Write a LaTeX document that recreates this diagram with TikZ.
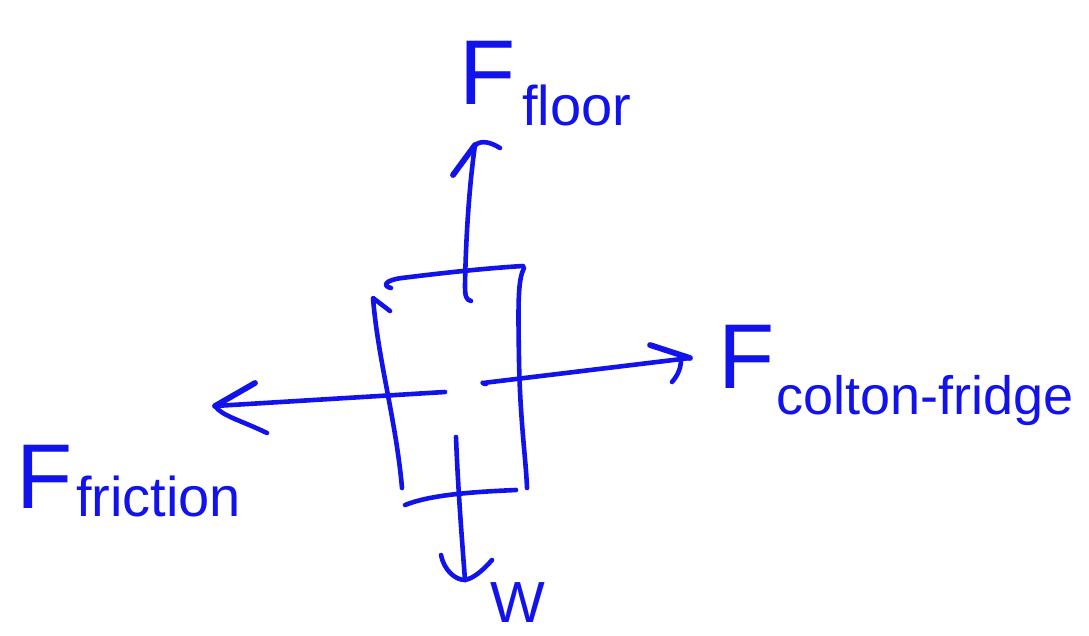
\documentclass[tikz,border=0pt]{standalone}
\usepackage{fontspec}
\setmainfont{Liberation Sans}
\definecolor{ink}{RGB}{18,18,235}
\tikzset{
  pen/.style={draw=ink, line width=4.6pt, line cap=round, line join=round},
  bigF/.style={text=ink, inner sep=0pt, anchor=base west, font=\fontsize{92}{92}\selectfont},
  sub/.style={text=ink, inner sep=0pt, anchor=base west, font=\fontsize{56}{56}\selectfont},
}
\begin{document}
\begin{tikzpicture}[x=1pt,y=-1pt]
\useasboundingbox (0,0) rectangle (1089,636);

% ---- box (the fridge) ----
\coordinate (tl) at (391,288);
\coordinate (tr) at (523,266);
\coordinate (lt1) at (390,311);
\coordinate (lt) at (373,298);
\coordinate (lb) at (402,488);
\coordinate (rt) at (524,268);
\coordinate (rb) at (527,488);
\coordinate (bl) at (405,505);
\coordinate (br) at (516,490);
\draw[pen] (tl) .. controls (382,286) and (385,280) .. (402,278) .. controls (450,272) and (490,268) .. (tr);
\draw[pen] (lt1) -- (lt) .. controls (378,360) and (396,420) .. (lb);
\draw[pen] (rt) .. controls (518,280) and (518,300) .. (519,360) .. controls (520,420) and (526,460) .. (rb);
\draw[pen] (bl) .. controls (430,495) and (470,492) .. (br);

% ---- up arrow: F floor ----
\coordinate (upS) at (471,301);
\coordinate (upE) at (475,145);
\coordinate (upL) at (453,175);
\coordinate (upR) at (500,148);
\draw[pen] (upS) .. controls (466,300) and (465,296) .. (465,285) .. controls (466,230) and (470,180) .. (upE);
\draw[pen, line width=5.8pt] (upL) -- (upE);
\draw[pen] (upE) .. controls (482,140) and (490,142) .. (upR);

% ---- left arrow: F friction ----
\coordinate (lfS) at (445,392);
\coordinate (lfE) at (215,406);
\coordinate (lfU) at (255,383);
\coordinate (lfD) at (267,433);
\draw[pen] (lfS) -- (lfE);
\draw[pen, line width=5.8pt] (lfU) -- (lfE);
\draw[pen] (lfE) .. controls (222,416) and (240,420) .. (lfD);

% ---- right arrow: F colton-fridge ----
\coordinate (rgS) at (483,383);
\coordinate (rgE) at (690,358);
\coordinate (rgU) at (650,345);
\coordinate (rgD) at (672,382);
\draw[pen] (486,384) .. controls (482,384) and (482,381) .. (rgS) -- (rgE);
\draw[pen, line width=5.8pt] (rgU) -- (rgE);
\draw[pen] (681,359) .. controls (681,368) and (678,375) .. (rgD);

% ---- down arrow: W ----
\coordinate (dnS) at (456,437);
\coordinate (dnE) at (465,580);
\coordinate (dnL) at (441,555);
\coordinate (dnR) at (492,560);
\draw[pen] (dnS) .. controls (458,490) and (462,540) .. (dnE);
\draw[pen] (dnL) .. controls (444,570) and (455,580) .. (dnE) .. controls (475,578) and (485,568) .. (dnR);

% ---- labels ----
\node[bigF] (Ffl) at (459,105) {F};
\node[sub] (Fflsub) at (522,126) {floor};
\node[bigF] (Fcf) at (718,388) {F};
\node[sub, font=\fontsize{54}{54}\selectfont] (Fcfsub) at (776,414) {colton-fridge};
\node[bigF] (Ffr) at (16,508) {F};
\node[sub] (Ffrsub) at (76,516) {friction};
\node[sub, font=\fontsize{58}{58}\selectfont] (W) at (490,622) {W};
\end{tikzpicture}
\end{document}
